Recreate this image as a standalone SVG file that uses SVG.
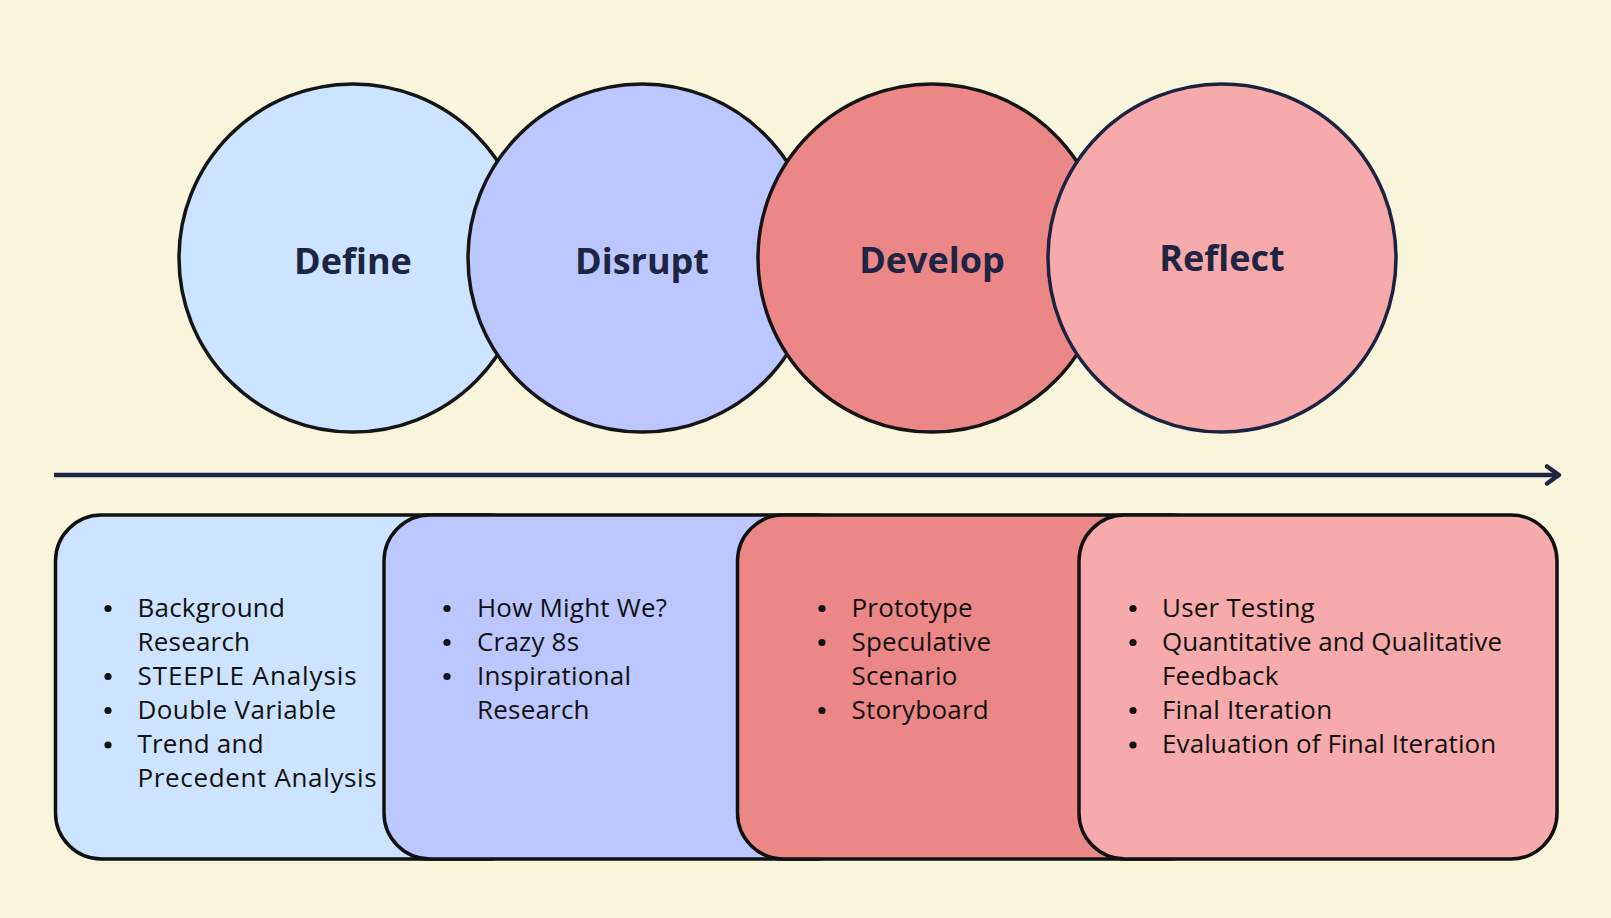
<svg xmlns="http://www.w3.org/2000/svg" width="1611" height="918" viewBox="0 0 1611 918">
<style>
.bg{fill:#f9f4dc}
.circ{stroke:#151515;stroke-width:3.5}
.box{stroke:#111111;stroke-width:3.5}
.lbl{font-family:"Open Sans","Liberation Sans",sans-serif;font-weight:700;font-size:36px;fill:#1d2542;text-anchor:middle}
.item{font-family:"Open Sans","Liberation Sans",sans-serif;font-size:26px;letter-spacing:0.2px;fill:#111111}
.dot{fill:#111111}
</style>
<rect class="bg" x="0" y="0" width="1611" height="918"/>
<g id="define-circle">
<circle class="circ" cx="353" cy="258" r="174" fill="#cce4ff"/>
<text class="lbl" x="353" y="274">Define</text>
</g>
<g id="disrupt-circle">
<circle class="circ" cx="642" cy="258" r="174" fill="#bcc6ff"/>
<text class="lbl" x="642" y="274">Disrupt</text>
</g>
<g id="develop-circle">
<circle class="circ" cx="932" cy="258" r="174" fill="#ec8787"/>
<text class="lbl" x="932" y="273">Develop</text>
</g>
<g id="reflect-circle">
<circle cx="1222" cy="258" r="174" fill="#f7aaab" stroke="#1c2340" stroke-width="3.5"/>
<text class="lbl" x="1222" y="271">Reflect</text>
</g>
<g id="connectors">
<line x1="54" y1="475" x2="1557" y2="475" stroke="#1d2542" stroke-width="4.5"/>
<polyline points="1547,466.5 1559,475 1547,483.5" fill="none" stroke="#1d2542" stroke-width="4.5" stroke-linecap="round" stroke-linejoin="round"/>
</g>
<g id="define-box">
<rect class="box" x="55.5" y="515" width="478" height="344" rx="46" fill="#cce4ff"/>
<circle class="dot" cx="108" cy="608.5" r="3.6"/>
<circle class="dot" cx="108" cy="676.5" r="3.6"/>
<circle class="dot" cx="108" cy="710.5" r="3.6"/>
<circle class="dot" cx="108" cy="745" r="3.6"/>
<text class="item" x="137.5" y="616.7">Background</text>
<text class="item" x="137.5" y="650.7">Research</text>
<text class="item" x="137.5" y="684.7" style="letter-spacing:0.9px">STEEPLE Analysis</text>
<text class="item" x="137.5" y="718.7" style="letter-spacing:0.4px">Double Variable</text>
<text class="item" x="137.5" y="753">Trend and</text>
<text class="item" x="137.5" y="787" style="letter-spacing:0.65px">Precedent Analysis</text>
</g>
<g id="disrupt-box">
<rect class="box" x="384" y="515" width="478" height="344" rx="46" fill="#bcc6ff"/>
<circle class="dot" cx="447" cy="608.5" r="3.6"/>
<circle class="dot" cx="447" cy="642.5" r="3.6"/>
<circle class="dot" cx="447" cy="676.5" r="3.6"/>
<text class="item" x="477" y="616.7">How Might We?</text>
<text class="item" x="477" y="650.7">Crazy 8s</text>
<text class="item" x="477" y="684.7">Inspirational</text>
<text class="item" x="477" y="718.7">Research</text>
</g>
<g id="develop-box">
<rect class="box" x="737.5" y="515" width="478" height="344" rx="46" fill="#ec8787"/>
<circle class="dot" cx="822" cy="608.5" r="3.6"/>
<circle class="dot" cx="822" cy="642.5" r="3.6"/>
<circle class="dot" cx="822" cy="710.5" r="3.6"/>
<text class="item" x="851.5" y="616.7">Prototype</text>
<text class="item" x="851.5" y="650.7">Speculative</text>
<text class="item" x="851.5" y="684.7">Scenario</text>
<text class="item" x="851.5" y="718.7">Storyboard</text>
</g>
<g id="reflect-box">
<rect class="box" x="1079" y="515" width="478" height="344" rx="46" fill="#f7aaab"/>
<circle class="dot" cx="1133" cy="608.5" r="3.6"/>
<circle class="dot" cx="1133" cy="642.5" r="3.6"/>
<circle class="dot" cx="1133" cy="710.5" r="3.6"/>
<circle class="dot" cx="1133" cy="745" r="3.6"/>
<text class="item" x="1162" y="616.7">User Testing</text>
<text class="item" x="1162" y="650.7" style="letter-spacing:0px">Quantitative and Qualitative</text>
<text class="item" x="1162" y="684.7">Feedback</text>
<text class="item" x="1162" y="718.7">Final Iteration</text>
<text class="item" x="1162" y="753" style="letter-spacing:0.1px">Evaluation of Final Iteration</text>
</g>
</svg>
